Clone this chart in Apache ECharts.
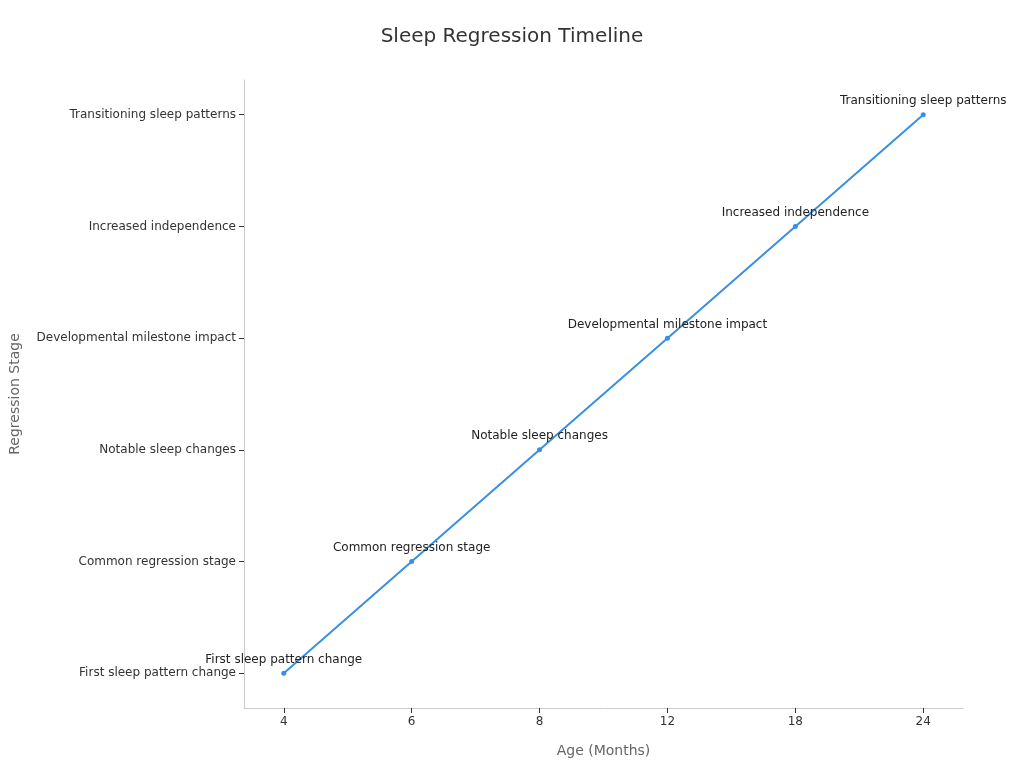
<!DOCTYPE html>
<html><head><meta charset="utf-8">
<script src="https://cdn.jsdelivr.net/npm/echarts@6/dist/echarts.min.js"></script>
<style>html,body{margin:0;padding:0}#c{width:1024px;height:768px}</style>
</head><body><div id="c"></div>
<script>
const ages = ['4','6','8','12','18','24'];
const stages = ['First sleep pattern change','Common regression stage','Notable sleep changes','Developmental milestone impact','Increased independence','Transitioning sleep patterns'];
const stageIndex = [0,1,2,3,4,5];
const data = ages.map((a,i)=>[i, stageIndex[i]]);
const chart = echarts.init(document.getElementById('c'));
chart.setOption({
  animation:false,
  title:{text:'Sleep Regression Timeline',left:'center',top:22,textStyle:{fontSize:20,fontWeight:'normal',color:'#333',fontFamily:'DejaVu Sans'}},
  grid:{left:242,right:61,top:80,bottom:60},
  xAxis:{type:'value',min:-0.311,max:5.311,splitNumber:5,name:'Age (Months)',nameLocation:'middle',nameGap:36,
    nameTextStyle:{fontSize:14,color:'#666',fontFamily:'DejaVu Sans'},
    splitLine:{show:false},axisLine:{show:true,onZero:false,lineStyle:{color:'#ccc'}},axisTick:{show:true,lineStyle:{color:'#333'}},
    axisLabel:{showMinLabel:false,showMaxLabel:false,color:'#333',fontFamily:'DejaVu Sans',fontSize:12,formatter:v=>Number.isInteger(v)&&ages[v]!==undefined?ages[v]:''}},
  yAxis:{type:'value',min:-0.311,max:5.311,splitNumber:5,name:'Regression Stage',nameLocation:'middle',nameGap:222,
    nameTextStyle:{fontSize:14,color:'#666',fontFamily:'DejaVu Sans'},
    splitLine:{show:false},axisLine:{show:true,onZero:false,lineStyle:{color:'#ccc'}},axisTick:{show:true,lineStyle:{color:'#333'}},
    axisLabel:{showMinLabel:false,showMaxLabel:false,color:'#333',fontFamily:'DejaVu Sans',fontSize:12,formatter:v=>Number.isInteger(v)&&stages[v]!==undefined?stages[v]:''}},
  series:[{type:'line',data:data,symbol:'circle',symbolSize:5,
    itemStyle:{color:'#3a8fe3'},lineStyle:{color:'#3a8fe3',width:2},
    label:{show:true,position:'top',color:'#222',fontSize:12,fontFamily:'DejaVu Sans',formatter:p=>stages[p.data[1]]}}]
});
</script></body></html>
